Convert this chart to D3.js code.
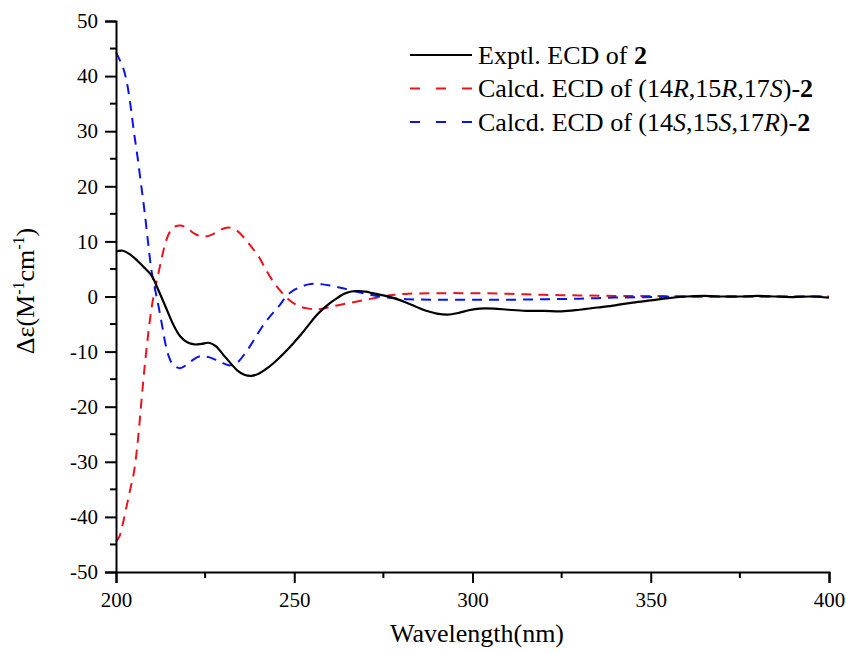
<!DOCTYPE html>
<html><head><meta charset="utf-8">
<script src="https://cdn.jsdelivr.net/npm/d3@7"></script>
<style>
html,body{margin:0;padding:0;background:#fff;}
text{font-family:"Liberation Serif","Times New Roman",serif;fill:#000;}
</style></head>
<body><svg id="c" width="846" height="653"></svg>
<script>
const xTicks = [200, 250, 300, 350, 400];
const yTicks = [-50, -40, -30, -20, -10, 0, 10, 20, 30, 40, 50];

const exptWl = [200,202,204,206,208,210,212,214,216,218,220,222,224,226,228,230,232,234,236,238,240,242,244,246,248,250,252,254,256,258,260,262,264,266,268,270,272,275,278,281,284,287,290,293,296,299,302,306,310,315,320,325,330,335,340,345,350,355,360,365,370,375,380,385,390,395,400];
const exptVal = [8.2,8.3,7.6,6.5,5.2,3.8,1.0,-2.0,-5.0,-7.2,-8.3,-8.7,-8.6,-8.4,-9.0,-10.5,-12.0,-13.4,-14.2,-14.4,-14.0,-13.2,-12.2,-11.0,-9.7,-8.3,-6.8,-5.2,-3.6,-2.3,-1.2,-0.3,0.5,0.9,1.0,0.9,0.6,0.2,-0.3,-1.0,-1.8,-2.6,-3.1,-3.3,-3.0,-2.5,-2.2,-2.2,-2.4,-2.6,-2.6,-2.7,-2.4,-2.0,-1.6,-1.1,-0.7,-0.3,0.0,0.1,0.0,0.0,0.1,0.0,-0.1,0.0,-0.2];

const redWl = [200,201,202,203,204,205,206,207,208,209,210,211,212,213,214,215,216,218,220,222,224,226,228,230,232,234,236,238,240,242,244,246,248,250,252,254,256,258,260,263,266,270,274,278,282,290,300,310,320,330,340,350,360,380,400];
const redVal = [-44.5,-43.5,-41,-38,-35,-32,-27,-20,-13,-7,-2,1.5,4.5,7.5,10,11.6,12.5,12.9,12.4,11.4,10.9,11.0,11.6,12.3,12.5,11.9,10.6,9.0,7.3,4.9,2.8,1.1,-0.3,-1.3,-1.9,-2.2,-2.3,-2.2,-1.9,-1.5,-1.1,-0.6,-0.1,0.3,0.5,0.6,0.6,0.5,0.3,0.2,0.1,0.1,0.0,0.0,0.0];

const blueWl = [200,201,202,203,204,205,206,207,208,209,210,211,212,213,214,215,216,218,220,222,224,226,228,230,232,234,236,238,240,242,244,246,248,250,252,254,256,258,260,263,266,270,274,278,282,290,300,310,320,330,340,350,360,380,400];
const blueVal = [44.3,43,41.5,39,35,30,25.5,20.5,15.5,9.8,4.5,1.2,-2,-5.5,-9,-11.2,-12.4,-13,-12.3,-11.3,-10.8,-11.0,-11.5,-12.1,-12.5,-12.0,-10.5,-8.6,-6.5,-4.6,-3.0,-1.5,0.2,1.2,1.8,2.2,2.3,2.2,2.0,1.6,1.1,0.5,0.0,-0.3,-0.5,-0.6,-0.6,-0.6,-0.5,-0.4,-0.2,-0.1,0.0,0.0,0.0];

const svg = d3.select("#c");
const x = d3.scaleLinear().domain([200, 400]).range([116, 829]);
const y = d3.scaleLinear().domain([-50, 50]).range([572, 21]);

const mk = (w, v) => w.map((d, i) => [d, v[i]]);
const line = d3.line().x(d => x(d[0])).y(d => y(d[1])).curve(d3.curveCatmullRom.alpha(0.5));

const plot = svg.append("g");
plot.append("path").datum(mk(redWl, redVal)).attr("d", line)
  .attr("fill", "none").attr("stroke", "#e8141c").attr("stroke-width", 2).attr("stroke-dasharray", "10,7");
plot.append("path").datum(mk(blueWl, blueVal)).attr("d", line)
  .attr("fill", "none").attr("stroke", "#0a14e6").attr("stroke-width", 2).attr("stroke-dasharray", "10,7");
plot.append("path").datum(mk(exptWl, exptVal)).attr("d", line)
  .attr("fill", "none").attr("stroke", "#000").attr("stroke-width", 2.2);

// axes
const fmt = d => String(d);
const xAxis = d3.axisBottom(x).tickValues(xTicks).tickSize(11).tickPadding(9).tickFormat(fmt);
const gx = svg.append("g").attr("transform", `translate(0,${y(-50)})`).call(xAxis);
const yAxis = d3.axisLeft(y).tickValues(yTicks).tickSize(11).tickPadding(7).tickFormat(fmt);
const gy = svg.append("g").attr("transform", `translate(${x(200)},0)`).call(yAxis);
[gx, gy].forEach(g => {
  g.select(".domain").attr("stroke", "#000").attr("stroke-width", 2);
  g.selectAll(".tick line").attr("stroke", "#000").attr("stroke-width", 2);
  g.selectAll(".tick text").style("font-family", '"Liberation Serif", serif').style("font-size", "21px").attr("fill", "#000");
});
// minor ticks
const xMinor = d3.range(225, 400, 50);
gx.selectAll(".minor").data(xMinor).enter().append("line")
  .attr("x1", d => x(d)).attr("x2", d => x(d)).attr("y1", 0).attr("y2", 6)
  .attr("stroke", "#000").attr("stroke-width", 2);
const yMinor = d3.range(-45, 50, 10);
gy.selectAll(".minor").data(yMinor).enter().append("line")
  .attr("y1", d => y(d)).attr("y2", d => y(d)).attr("x1", 0).attr("x2", -6)
  .attr("stroke", "#000").attr("stroke-width", 2);

// axis titles
svg.append("text").attr("x", 477).attr("y", 642).attr("text-anchor", "middle")
  .style("font-size", "26px").text("Wavelength(nm)");
const yt = svg.append("text").attr("transform", "translate(34,291) rotate(-90)")
  .attr("text-anchor", "middle").style("font-size", "26px");
yt.append("tspan").text("Δε(M");
yt.append("tspan").attr("dy", -10).style("font-size", "16px").text("-1");
yt.append("tspan").attr("dy", 10).text("cm");
yt.append("tspan").attr("dy", -10).style("font-size", "16px").text("-1");
yt.append("tspan").attr("dy", 10).text(")");

// legend
const legendRows = [
  {color: "#000", dash: null, parts: [["Exptl. ECD of ", ""], ["2", "b"]]},
  {color: "#e8141c", dash: "10,16", parts: [["Calcd. ECD of (14", ""], ["R", "i"], [",15", ""], ["R", "i"], [",17", ""], ["S", "i"], [")-", ""], ["2", "b"]]},
  {color: "#0a14e6", dash: "10,16", parts: [["Calcd. ECD of (14", ""], ["S", "i"], [",15", ""], ["S", "i"], [",17", ""], ["R", "i"], [")-", ""], ["2", "b"]]}
];
const lg = svg.append("g");
legendRows.forEach((r, i) => {
  const yy = 55 + i * 33.5;
  const l = lg.append("line").attr("x1", 410).attr("x2", 472).attr("y1", yy).attr("y2", yy)
    .attr("stroke", r.color).attr("stroke-width", 2.2);
  if (r.dash) l.attr("stroke-dasharray", r.dash);
  const t = lg.append("text").attr("x", 478).attr("y", yy + 8.5).style("font-size", "26px");
  r.parts.forEach(p => {
    const ts = t.append("tspan").text(p[0]);
    if (p[1] === "b") ts.style("font-weight", "bold");
    if (p[1] === "i") ts.style("font-style", "italic");
  });
});
</script></body></html>
